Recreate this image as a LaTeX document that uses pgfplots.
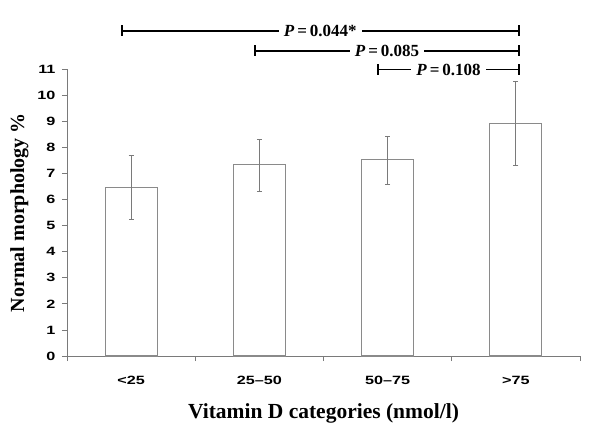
\documentclass[border=0pt]{standalone}
\usepackage{pgfplots}
\pgfplotsset{compat=1.18}
\usepackage{fontspec}
\setmainfont{Liberation Serif}
\setsansfont{Liberation Sans}
\usepackage{graphicx}

\definecolor{axisgray}{HTML}{7A7A7A}
\definecolor{bargray}{HTML}{8A8A8A}
\newcommand\tl[1]{\scalebox{1.35}[1]{\fontsize{12bp}{13bp}\sffamily\bfseries #1}}
\newcommand\pv[1]{{\fontsize{17bp}{18bp}\selectfont\bfseries\textit{P}\,=\,#1}}

\begin{document}
\begin{tikzpicture}
\begin{axis}[
    at={(0,0)}, anchor=south west,
    scale only axis,
    width=513bp, height=286.5bp,
    xmin=-0.5, xmax=3.5,
    ymin=0, ymax=11,
    clip=false,
    axis lines*=left,
    axis line style={draw=axisgray, line width=0.9bp},
    xtick={0,1,2,3},
    xticklabels={\tl{<25},\tl{25--50},\tl{50--75},\tl{>75}},
    minor xtick={-0.5,0.5,1.5,2.5,3.5},
    xtick style={draw=none},
    minor x tick style={draw=axisgray, line width=0.9bp},
    ytick={0,1,...,11},
    yticklabel={\tl{\pgfmathprintnumber{\tick}}},
    ytick style={draw=axisgray, line width=0.9bp},
    tick align=outside,
    major tick length=5bp,
    minor tick length=5bp,
    /pgf/number format/assume math mode=true,
    xticklabel style={yshift=-12bp},
    yticklabel style={xshift=-3bp},
    xlabel={\fontsize{21.5bp}{23bp}\selectfont\bfseries Vitamin D categories (nmol/l)},
    ylabel={\fontsize{20bp}{22bp}\selectfont\bfseries Normal morphology \%},
    xlabel style={yshift=-12bp},
    ylabel style={yshift=2bp},
]
\addplot[ybar, bar width=52bp, fill=white, draw=bargray, line width=1.1bp,
    error bars/.cd, y dir=both, y explicit,
    error bar style={draw=axisgray, line width=1bp},
    error mark options={rotate=90, mark size=2.6bp, draw=axisgray, line width=1bp}]
table[x=x, y=y, y error plus=ep, y error minus=em] {
x y    ep   em
0 6.47 1.21 1.21
1 7.35 0.96 1.05
2 7.53 0.90 0.93
3 8.92 1.61 1.59
};
\draw[|-|, line width=1.8bp] (axis cs:-0.08,12.49) -- (axis cs:3.03,12.49)
    node[midway, fill=white, inner xsep=5bp, inner ysep=1bp] {\pv{0.044*}};
\draw[|-|, line width=1.8bp] (axis cs:0.96,11.72) -- (axis cs:3.03,11.72)
    node[midway, fill=white, inner xsep=5bp, inner ysep=1bp] {\pv{0.085}};
\draw[|-|, line width=1.8bp] (axis cs:1.92,11.0) -- (axis cs:3.03,11.0)
    node[midway, fill=white, inner xsep=5bp, inner ysep=1bp] {\pv{0.108}};
\end{axis}
\pgfresetboundingbox
\path[use as bounding box] (-67bp,-76bp) rectangle (526bp,356bp);
\end{tikzpicture}
\end{document}
